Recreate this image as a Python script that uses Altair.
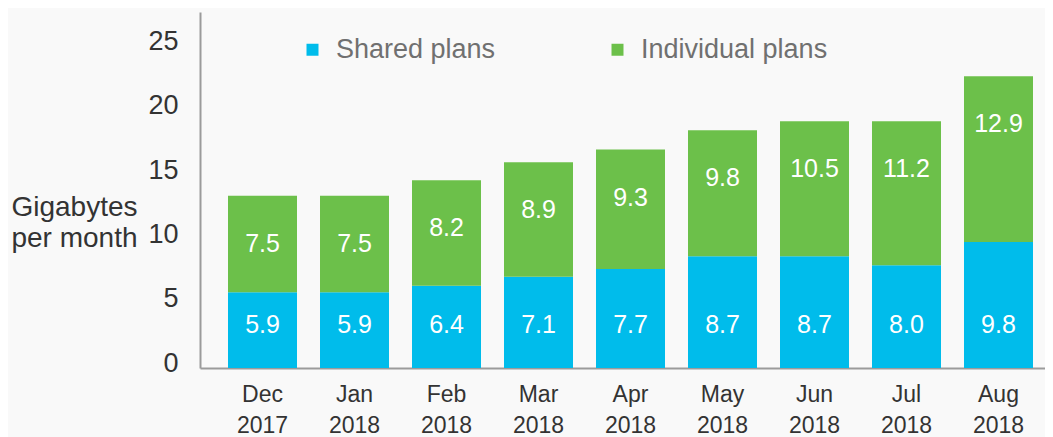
import altair as alt
import pandas as pd

# ---- data ----
months = ["Dec 2017", "Jan 2018", "Feb 2018", "Mar 2018", "Apr 2018",
          "May 2018", "Jun 2018", "Jul 2018", "Aug 2018"]
shared = [5.9, 5.9, 6.4, 7.1, 7.7, 8.7, 8.7, 8.0, 9.8]
individual = [7.5, 7.5, 8.2, 8.9, 9.3, 9.8, 10.5, 11.2, 12.9]
series = ["Shared plans", "Individual plans"]
colors = ["#00BCEB", "#6CC04A"]
y_ticks = [0, 5, 10, 15, 20, 25]
y_title = ["Gigabytes", "per month"]

rows = []
for m, s, i in zip(months, shared, individual):
    rows.append({"month": m, "series": series[0], "value": s, "order": 0, "total": s + i})
    rows.append({"month": m, "series": series[1], "value": i, "order": 1, "total": s + i})
df = pd.DataFrame(rows)

FONT = "Liberation Sans"
AXIS_COLOR = "#9b9b9b"
TEXT_COLOR = "#333333"

x_enc = alt.X(
    "month:N", sort=months, title=None,
    scale=alt.Scale(paddingInner=0.25, paddingOuter=0.2174, align=0.7),
    axis=alt.Axis(
        labelExpr="split(datum.label, ' ')", labelAngle=0, labelFontSize=23,
        labelLineHeight=31, labelPadding=15, ticks=False, tickSize=0,
        domainColor=AXIS_COLOR, domainWidth=2, labelColor=TEXT_COLOR, labelFont=FONT,
    ),
)
y_scale = alt.Scale(domain=[0, 27.7], nice=False, zero=True)

bars = alt.Chart(df).mark_bar().encode(
    x=x_enc,
    y=alt.Y(
        "value:Q", stack="zero", scale=y_scale,
        axis=alt.Axis(
            values=y_ticks, grid=False, ticks=False, tickSize=0, labelPadding=22,
            labelFontSize=27, labelColor=TEXT_COLOR, labelFont=FONT, labelOffset=-5,
            domainColor=AXIS_COLOR, domainWidth=2,
            title=y_title, titleAngle=0, titleX=-126, titleY=203, titleAlign="center",
            titleBaseline="alphabetic", titleFontSize=28, titleFontWeight="normal",
            titleColor=TEXT_COLOR, titleFont=FONT, titleLineHeight=31,
        ),
    ),
    color=alt.Color(
        "series:N", scale=alt.Scale(domain=series, range=colors),
        legend=alt.Legend(
            title=None, orient="none", direction="horizontal", legendX=99, legendY=24,
            symbolType="square", symbolSize=144, symbolStrokeWidth=0, symbolOpacity=1,
            labelFontSize=27, labelFont=FONT, labelColor="#707070", labelOffset=10,
            columnPadding=108, labelLimit=400, padding=0,
        ),
    ),
    order=alt.Order("order:Q"),
)

shared_text = alt.Chart(df).transform_filter(
    alt.datum.series == series[0]
).mark_text(dy=-43, color="white", fontSize=25, font=FONT, baseline="middle").encode(
    x=alt.X("month:N", sort=months),
    y=alt.datum(0),
    text=alt.Text("value:Q", format=".1f"),
)

ind_text = alt.Chart(df).transform_filter(
    alt.datum.series == series[1]
).mark_text(dy=48, color="white", fontSize=25, font=FONT, baseline="middle").encode(
    x=alt.X("month:N", sort=months),
    y=alt.Y("total:Q"),
    text=alt.Text("value:Q", format=".1f"),
)

chart = alt.layer(bars, shared_text, ind_text).properties(
    width=845, height=356,
    padding={"left": 192, "top": 4, "right": 0, "bottom": 69},
    autosize=alt.AutoSizeParams(type="none"),
    background="#f9f9f9",
).configure_view(stroke=None)

chart.save("out.html", embed_options={"renderer": "svg", "actions": False})
